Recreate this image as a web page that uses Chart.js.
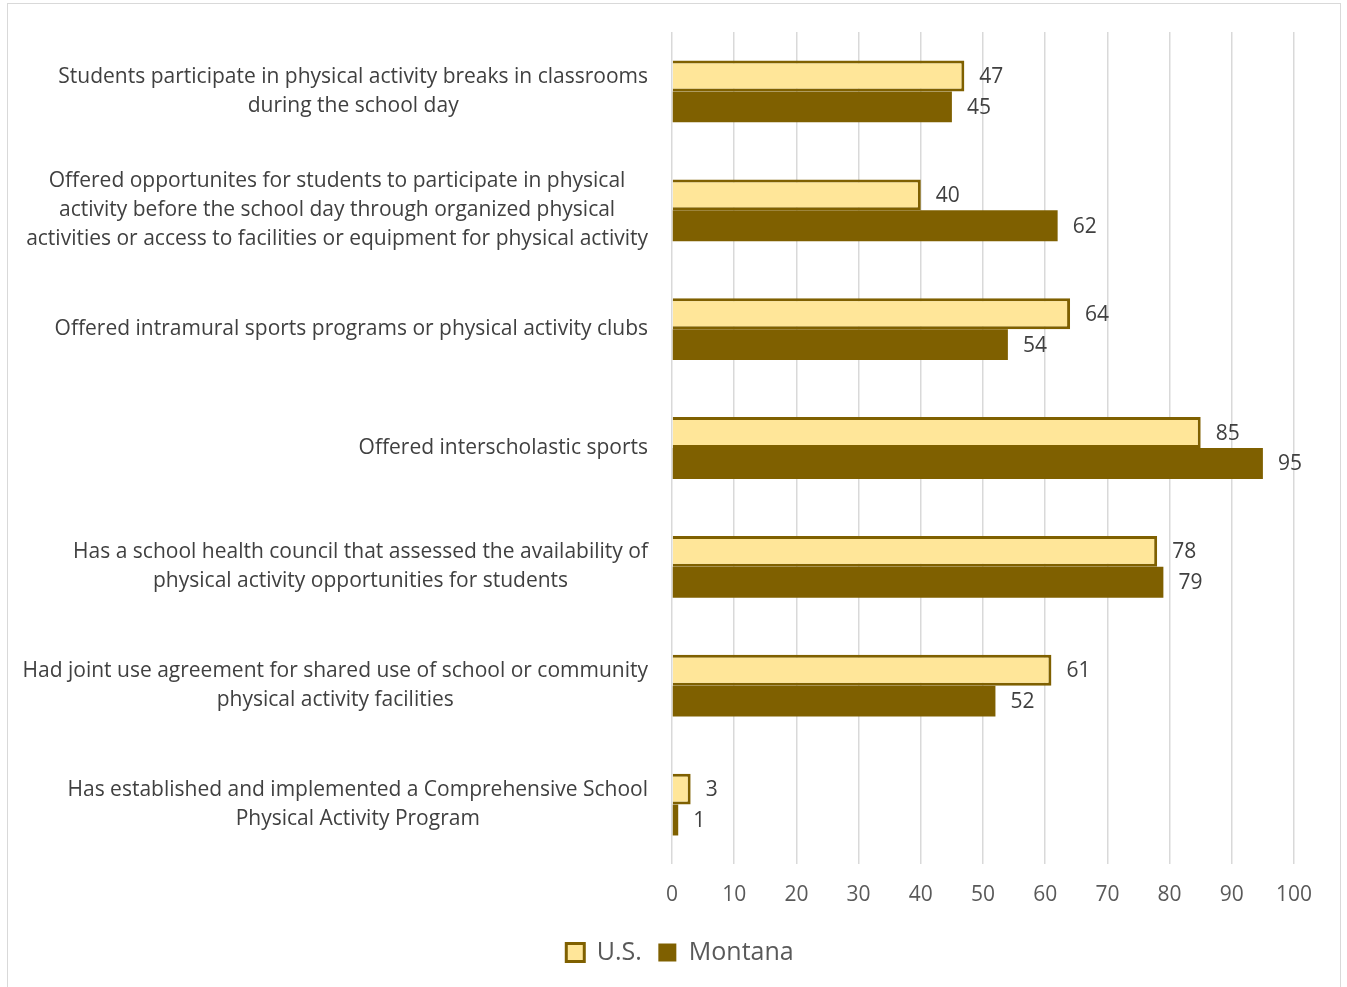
<!DOCTYPE html>
<html>
<head>
<meta charset="utf-8">
<script src="https://cdn.jsdelivr.net/npm/chart.js@4"></script>
<style>
  html, body { margin: 0; padding: 0; background: #fff; }
  #wrap { width: 1347px; height: 987px; position: relative; }
</style>
</head>
<body>
<div id="wrap"><canvas id="grafica"></canvas></div>
<script>
// datos
const categorias = [
  ["Students participate in physical activity breaks in classrooms", "during the school day"],
  ["Offered opportunites for students to participate in physical", "activity before the school day through organized physical", "activities or access to facilities or equipment for physical activity"],
  ["Offered intramural sports programs or physical activity clubs"],
  ["Offered interscholastic sports"],
  ["Has a school health council that assessed the availability of", "physical activity opportunities for students"],
  ["Had joint use agreement for shared use of school or community", "physical activity facilities"],
  ["Has established and implemented a Comprehensive School", "Physical Activity Program"]
];
const valoresUS = [47, 40, 64, 85, 78, 61, 3];
const valoresMontana = [45, 62, 54, 95, 79, 52, 1];
const ticksX = [0, 10, 20, 30, 40, 50, 60, 70, 80, 90, 100];

const fuente = "'Open Sans', sans-serif";

// etiquetas del eje Y, valores y marco
const plugExtra = {
  id: "extra",
  beforeDraw(chart) {
    const ctx = chart.ctx;
    ctx.save();
    ctx.strokeStyle = "#d9d9d9";
    ctx.lineWidth = 1;
    ctx.strokeRect(7.5, 3.5, 1333, 995);
    ctx.restore();
    // centrar la leyenda en el ancho total del lienzo
    const lg = chart.legend;
    if (lg && !lg._movida) {
      lg.left += 33;
      lg.right += 33;
      lg._movida = true;
    }
  },
  afterDraw(chart) {
    const ctx = chart.ctx;
    const y = chart.scales.y;
    ctx.save();
    ctx.font = "21px " + fuente;
    ctx.fillStyle = "#404040";
    ctx.textBaseline = "middle";
    // etiquetas de categoria, bloque alineado a la derecha, lineas centradas
    categorias.forEach((lineas, i) => {
      const cy = y.getPixelForTick(i);
      const ancho = Math.max(...lineas.map(l => ctx.measureText(l).width));
      const derecha = chart.chartArea.left - 24;
      const centro = derecha - ancho / 2;
      ctx.textAlign = "center";
      lineas.forEach((l, k) => {
        const ly = cy + (k - (lineas.length - 1) / 2) * 29;
        ctx.fillText(l, centro, ly);
      });
    });
    // valores al final de cada barra
    ctx.textAlign = "left";
    chart.data.datasets.forEach((ds, di) => {
      chart.getDatasetMeta(di).data.forEach((bar, i) => {
        ctx.fillText(String(ds.data[i]), bar.x + 15, bar.y + 1);
      });
    });
    ctx.restore();
  }
};

new Chart(document.getElementById("grafica").getContext("2d"), {
  type: "bar",
  data: {
    labels: categorias.map(c => c.join(" ")),
    datasets: [{
      label: "U.S.",
      data: valoresUS,
      backgroundColor: "#FFE699",
      borderColor: "#7F6000",
      borderWidth: 3,
      categoryPercentage: 0.52,
      barPercentage: 1
    }, {
      label: "Montana",
      data: valoresMontana,
      backgroundColor: "#7F6000",
      borderColor: "#7F6000",
      borderWidth: 0,
      categoryPercentage: 0.52,
      barPercentage: 1
    }]
  },
  options: {
    indexAxis: "y",
    responsive: true,
    maintainAspectRatio: false,
    animation: false,
    layout: {
      padding: { top: 32, right: 53, bottom: 12, left: 0 }
    },
    scales: {
      x: {
        min: 0,
        max: 100,
        afterBuildTicks: (s) => { s.ticks = ticksX.map(v => ({ value: v })); },
        afterFit: (s) => { s.height = 66; },
        grid: { color: "#d9d9d9", lineWidth: 1.5, drawTicks: false },
        border: { display: false },
        ticks: {
          color: "#595959",
          font: { family: fuente, size: 21 },
          padding: 18
        }
      },
      y: {
        afterFit: (s) => { s.width = 672; },
        grid: { display: false },
        border: { display: false },
        ticks: { display: false }
      }
    },
    plugins: {
      legend: {
        position: "bottom",
        labels: {
          color: "#595959",
          font: { family: fuente, size: 25 },
          boxWidth: 18,
          boxHeight: 18,
          padding: 10,
          generateLabels: (chart) => chart.data.datasets.map((ds, i) => ({
            text: i === 0 ? ds.label + " " : ds.label,
            fillStyle: ds.backgroundColor,
            strokeStyle: "#7F6000",
            lineWidth: i === 0 ? 3 : 0,
            fontColor: "#595959",
            datasetIndex: i
          }))
        }
      },
      tooltip: { enabled: false }
    }
  },
  plugins: [plugExtra]
});
</script>
</body>
</html>
